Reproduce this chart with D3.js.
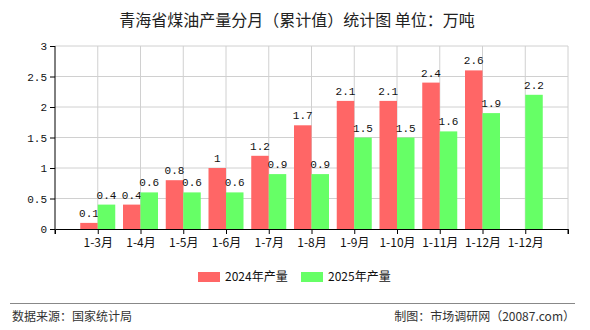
<!DOCTYPE html>
<html><head><meta charset="utf-8">
<script src="https://cdn.jsdelivr.net/npm/d3@7"></script>
<style>body{margin:0;background:#fff}svg{display:block}</style>
</head><body><svg id="c" width="590" height="330" font-family="'Noto Sans CJK SC',sans-serif"></svg>
<script>
const categories = ["1-3月","1-4月","1-5月","1-6月","1-7月","1-8月","1-9月","1-10月","1-11月","1-12月","1-12月 "];
const series2024 = [0.1,0.4,0.8,1,1.2,1.7,2.1,2.1,2.4,2.6,null];
const series2025 = [0.4,0.6,0.6,0.6,0.9,0.9,1.5,1.5,1.6,1.9,2.2];
const yTicks = [0,0.5,1,1.5,2,2.5,3];
const seriesNames = ["2024年产量","2025年产量"];
const colors = ["#FF6666","#66FF66"];

const mono = "'Liberation Mono','DejaVu Sans Mono',monospace";
const cjk = "'Noto Sans CJK SC',sans-serif";
const svg = d3.select("#c");
const L=55,R=568,T=46,B=229;
const x = d3.scalePoint().domain(categories).range([L,R]).padding(1);
const y = d3.scaleLinear().domain([0,3]).range([B,T]);
const bw = 17.5;

svg.append("text").attr("x",297).attr("y",26).attr("text-anchor","middle").style("font-family",cjk)
  .attr("font-size",16).attr("fill","#222").text("青海省煤油产量分月（累计值）统计图\u00a0单位：万吨");

// grid
const g = svg.append("g");
yTicks.forEach(t=>{ if(t>0) g.append("line").attr("x1",L).attr("x2",R).attr("y1",y(t)).attr("y2",y(t)).attr("stroke","#d0d0d0"); });
categories.forEach(c=>g.append("line").attr("x1",x(c)).attr("x2",x(c)).attr("y1",T).attr("y2",B).attr("stroke","#d0d0d0"));
g.append("line").attr("x1",R).attr("x2",R).attr("y1",T).attr("y2",B).attr("stroke","#d0d0d0");

// bars
const data = [series2024, series2025];
data.forEach((s,i)=>{
  categories.forEach((c,j)=>{
    const v = s[j]; if(v==null) return;
    const bx = x(c) + (i===0 ? -bw : 0);
    svg.append("rect").attr("x",bx).attr("y",y(v)).attr("width",bw).attr("height",B-y(v)).attr("fill",colors[i]);
    svg.append("text").attr("x",bx+bw/2).attr("y",y(v)-6).attr("text-anchor","middle")
      .style("font-family",mono).style("font-size","11px").attr("fill","#111").text(v);
  });
});

// axes
const ya = svg.append("g").attr("transform",`translate(${L},0)`)
  .call(d3.axisLeft(y).tickValues(yTicks).tickSize(5).tickFormat(d3.format("")));
ya.select(".domain").attr("stroke","#000").attr("d",`M0,${T}H0V${B}`);
ya.selectAll("text").style("font-size","11px").attr("fill","#111").style("font-family",mono);
const xa = svg.append("g").attr("transform",`translate(0,${B})`)
  .call(d3.axisBottom(x).tickSize(5).tickSizeOuter(5).tickFormat(d=>d.trim()));
xa.select(".domain").attr("stroke","#000");
xa.selectAll("text").style("font-size","12px").style("font-family",cjk).attr("fill","#111").attr("dy","0.85em");
xa.append("line").attr("x1",L).attr("x2",L).attr("y1",0).attr("y2",5).attr("stroke","#000");
xa.append("line").attr("x1",R).attr("x2",R).attr("y1",0).attr("y2",5).attr("stroke","#000");

// legend
const lg = [{x:198},{x:301}];
lg.forEach((p,i)=>{
  svg.append("rect").attr("x",p.x).attr("y",272).attr("width",22).attr("height",10).attr("fill",colors[i]);
  svg.append("text").attr("x",p.x+27).attr("y",281).attr("font-size",12).attr("fill","#111").text(seriesNames[i]);
});

svg.append("line").attr("x1",10).attr("x2",575).attr("y1",303.5).attr("y2",303.5).attr("stroke","#888");
svg.append("text").attr("x",12).attr("y",321).attr("font-size",12).attr("fill","#333").text("数据来源：国家统计局");
svg.append("text").attr("x",575).attr("y",321).attr("text-anchor","end").attr("font-size",12).attr("fill","#333").text("制图：市场调研网（20087.com）");
</script></body></html>
